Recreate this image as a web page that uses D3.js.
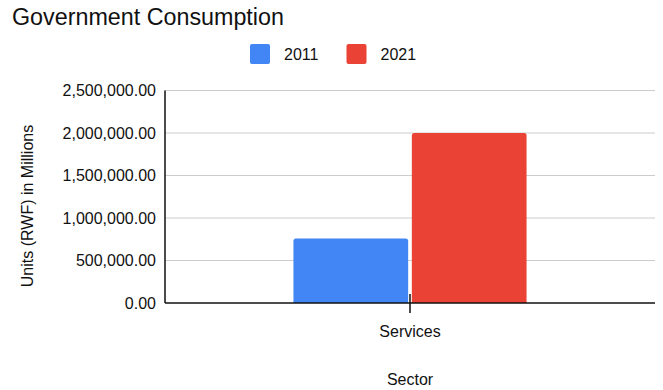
<!DOCTYPE html>
<html>
<head>
<meta charset="utf-8">
<script src="https://cdn.jsdelivr.net/npm/d3@7"></script>
<style>
  html, body { margin: 0; padding: 0; background: #fff; }
  svg { display: block; font-family: "Liberation Sans", Arial, sans-serif; }
</style>
</head>
<body>
<svg id="chart" width="663" height="390"></svg>
<script>
// Government consumption by sector (RWF, millions)
const categories = ["Services"];
const seriesNames = ["2011", "2021"];
const values2011 = [760000];
const values2021 = [2000000];
const yTicks = [0, 500000, 1000000, 1500000, 2000000, 2500000];
const colors = ["#4285F4", "#EA4335"];

const seriesValues = [values2011, values2021];

const svg = d3.select("#chart");
const plotLeft = 165, plotRight = 655, plotTop = 90.5, plotBottom = 303;

const y = d3.scaleLinear().domain([0, 2500000]).range([plotBottom, plotTop]);
const x0 = d3.scaleBand().domain(categories).range([plotLeft, plotRight]).padding(0);
const x1 = d3.scaleBand().domain(seriesNames).range([0, x0.bandwidth()])
  .paddingInner(0.031).paddingOuter(1.085);

// Title
svg.append("text")
  .attr("x", 12).attr("y", 25)
  .attr("font-size", 23.3).attr("fill", "#111")
  .text("Government Consumption");

// Legend
const legendItems = [
  { name: seriesNames[0], x: 250, color: colors[0] },
  { name: seriesNames[1], x: 346.5, color: colors[1] }
];
const lg = svg.append("g");
legendItems.forEach(d => {
  lg.append("rect").attr("x", d.x).attr("y", 44).attr("width", 20).attr("height", 20)
    .attr("rx", 2).attr("fill", d.color);
  lg.append("text").attr("x", d.x + 34).attr("y", 60)
    .attr("font-size", 16).attr("fill", "#111").text(d.name);
});

// Gridlines
svg.append("g")
  .selectAll("line")
  .data(yTicks.filter(t => t > 0))
  .join("line")
  .attr("x1", plotLeft).attr("x2", plotRight)
  .attr("y1", d => y(d)).attr("y2", d => y(d))
  .attr("stroke", "#cccccc").attr("stroke-width", 1);

// Y axis labels
const yAxis = d3.axisLeft(y).tickValues(yTicks).tickFormat(d3.format(",.2f")).tickSize(0).tickPadding(9);
const ya = svg.append("g").attr("transform", `translate(${plotLeft},0)`).call(yAxis);
ya.select(".domain").remove();
ya.selectAll("text").attr("font-size", 16).attr("fill", "#111")
  .attr("font-family", "Liberation Sans, Arial, sans-serif");

// Bars with rounded top corners
function barPath(x, yTop, w, h, r) {
  r = Math.min(r, h, w / 2);
  return `M${x},${yTop + h}V${yTop + r}Q${x},${yTop} ${x + r},${yTop}H${x + w - r}Q${x + w},${yTop} ${x + w},${yTop + r}V${yTop + h}Z`;
}
const groups = svg.append("g").selectAll("g")
  .data(categories)
  .join("g")
  .attr("transform", d => `translate(${x0(d)},0)`);
groups.selectAll("path")
  .data((d, i) => seriesNames.map((s, k) => ({ s, v: seriesValues[k][i], c: colors[k] })))
  .join("path")
  .attr("d", d => barPath(x1(d.s), y(d.v), x1.bandwidth(), plotBottom - y(d.v), 2.5))
  .attr("fill", d => d.c);

// Axis lines
svg.append("line").attr("x1", plotLeft).attr("x2", plotLeft).attr("y1", plotTop).attr("y2", plotBottom)
  .attr("stroke", "#111").attr("stroke-width", 1.5);
svg.append("line").attr("x1", plotLeft).attr("x2", plotRight).attr("y1", plotBottom).attr("y2", plotBottom)
  .attr("stroke", "#111").attr("stroke-width", 1.5);

// Category tick and label
categories.forEach(c => {
  const cx = x0(c) + x0.bandwidth() / 2;
  svg.append("line").attr("x1", cx).attr("x2", cx).attr("y1", 294).attr("y2", 313)
    .attr("stroke", "#111").attr("stroke-width", 1.5);
  svg.append("text").attr("x", cx).attr("y", 337).attr("text-anchor", "middle")
    .attr("font-size", 16).attr("fill", "#111").text(c);
});

// Axis titles
svg.append("text").attr("x", 410).attr("y", 385).attr("text-anchor", "middle")
  .attr("font-size", 16).attr("fill", "#111").text("Sector");
svg.append("text").attr("transform", "translate(33,206) rotate(-90)")
  .attr("text-anchor", "middle").attr("font-size", 16).attr("fill", "#111")
  .text("Units (RWF) in Millions");
</script>
</body>
</html>
